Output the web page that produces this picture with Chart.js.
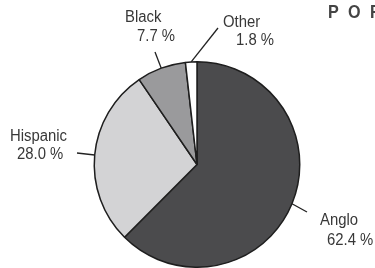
<!DOCTYPE html>
<html>
<head>
<meta charset="utf-8">
<script src="https://cdn.jsdelivr.net/npm/chart.js@4/dist/chart.umd.min.js"></script>
<style>
  html, body { margin: 0; padding: 0; background: #fff; }
  canvas { display: block; }
</style>
</head>
<body>
<canvas id="pie" width="375" height="268"></canvas>
<script>
// population shares, clockwise from 12 o'clock
const groups = ['Anglo', 'Hispanic', 'Black', 'Other'];
const shares = [62.4, 28.0, 7.7, 1.8];
const sliceColors = ['#4b4b4d', '#d3d3d5', '#9a9a9c', '#ffffff'];

// where each callout sits (leader end, then two text lines: left x, baseline y)
const callouts = {
  Anglo:    { end: [307, 212], lines: [[320, 225], [327, 245]] },
  Hispanic: { end: [77, 153],  lines: [[10, 141], [17, 159]] },
  Black:    { end: [155, 52],  lines: [[125, 22], [137, 41]] },
  Other:    { end: [218, 28],  lines: [[223, 27], [236, 45]] }
};

// the scanned type is a bit taller than it is wide
function squishText(ctx, text, x, y) {
  ctx.save();
  ctx.translate(x, y);
  ctx.scale(0.93, 1);
  ctx.fillText(text, 0, 0);
  ctx.restore();
}

const calloutPlugin = {
  id: 'callouts',
  afterDraw(chart) {
    const ctx = chart.ctx;
    const meta = chart.getDatasetMeta(0);
    ctx.save();
    meta.data.forEach((arc, i) => {
      const c = callouts[groups[i]];
      const mid = (arc.startAngle + arc.endAngle) / 2;
      const sx = arc.x + Math.cos(mid) * arc.outerRadius;
      const sy = arc.y + Math.sin(mid) * arc.outerRadius;
      ctx.strokeStyle = '#222';
      ctx.lineWidth = 1.3;
      ctx.beginPath();
      ctx.moveTo(sx, sy);
      ctx.lineTo(c.end[0], c.end[1]);
      ctx.stroke();

      ctx.fillStyle = '#383838';
      ctx.font = '16px "Liberation Sans", Arial, sans-serif';
      ctx.textAlign = 'left';
      ctx.textBaseline = 'alphabetic';
      squishText(ctx, groups[i], c.lines[0][0], c.lines[0][1]);
      squishText(ctx, shares[i].toFixed(1) + ' %', c.lines[1][0], c.lines[1][1]);
    });

    // title, cut off by the right edge as in the source image
    ctx.fillStyle = '#444';
    ctx.font = 'bold 17px "Liberation Sans", Arial, sans-serif';
    ['P', 'O', 'P'].forEach((ch, k) => {
      ctx.save();
      ctx.translate([328, 348, 370][k], 18);
      ctx.scale(0.95, 1.05);
      ctx.fillText(ch, 0, 0);
      ctx.restore();
    });
    ctx.restore();
  }
};

new Chart(document.getElementById('pie'), {
  type: 'pie',
  data: {
    labels: groups,
    datasets: [{
      data: shares,
      backgroundColor: sliceColors,
      borderColor: '#1e1e1e',
      borderWidth: 1.5
    }]
  },
  options: {
    responsive: false,
    animation: false,
    layout: { padding: { top: 61, bottom: 0, left: 93, right: 74 } },
    plugins: {
      legend: { display: false },
      tooltip: { enabled: false }
    }
  },
  plugins: [calloutPlugin]
});
</script>
</body>
</html>
